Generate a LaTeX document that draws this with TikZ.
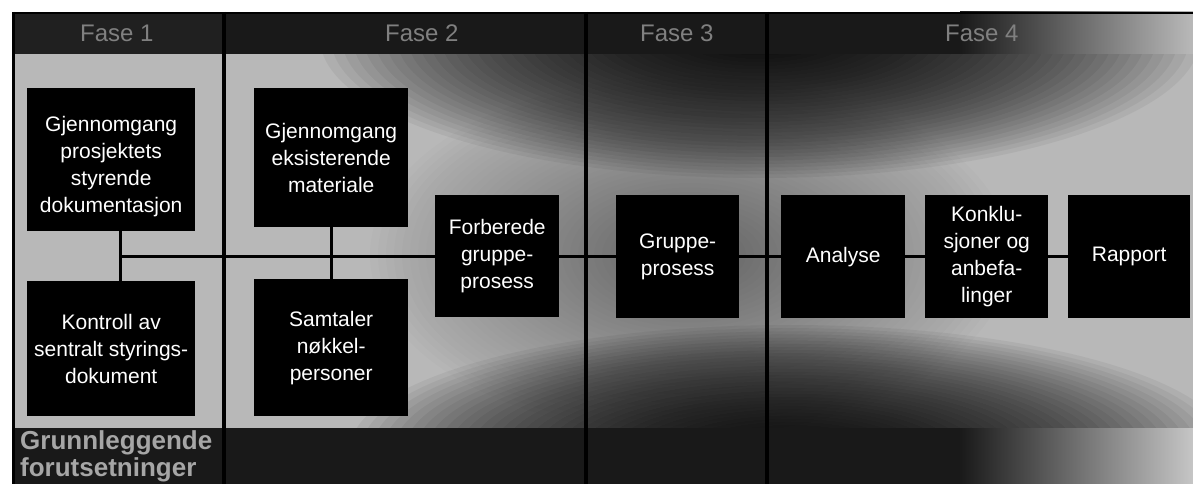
\documentclass[tikz,border=0pt]{standalone}
\usepackage{fontspec}
\setmainfont{Liberation Sans}
\definecolor{bodygray}{gray}{0.72}
\definecolor{bandgray}{gray}{0.1}
\definecolor{labelgray}{gray}{0.5}
\begin{document}
\begin{tikzpicture}[x=1pt,y=-1pt,
  stepbox/.style={fill=black, text=white, align=center, inner sep=0pt,
    font=\fontsize{21}{27}\selectfont},
  steptext/.style={text=white, align=center, inner sep=0pt,
    font=\fontsize{21}{27}\selectfont},
  link/.style={draw=black, line width=3pt},
  divider/.style={draw=black, line width=3.5pt},
  bandlabel/.style={text=labelgray, font=\fontsize{24}{27}\selectfont, inner sep=0pt, align=left}]

% canvas
\useasboundingbox (0,0) rectangle (1193,484);
\fill[white] (0,0) rectangle (1193,484);

% body area: light base, soft dark zones built from stacked translucent ellipses
\begin{scope}
  \clip (12,54) rectangle (1193,428);
  \fill[bodygray] (12,54) rectangle (1193,428);
  \foreach \k in {1,...,40} {
    \pgfmathsetmacro{\f}{\k/40}
    \fill[black, opacity=0.012] (690,255) ellipse [x radius=320*\f, y radius=180*\f];
    \fill[black, opacity=0.05] (760,38) ellipse [x radius=440*\f, y radius=140*\f];
    \fill[black, opacity=0.05] (790,450) ellipse [x radius=440*\f, y radius=125*\f];
  }
\end{scope}

% header band
\fill[bandgray] (12,12) rectangle (1193,54);
\fill[gray!25!black] (12,12) rectangle (224,54);
\shade[left color=bandgray, right color=gray!55] (960,12) rectangle (1193,54);
% footer band
\fill[bandgray] (12,428) rectangle (1193,484);
\shade[left color=bandgray, right color=gray!45] (960,428) rectangle (1193,484);
\fill[gray!20!black] (12,428) rectangle (224,484);

% phase labels
\node[bandlabel, anchor=west] (f1) at (80,33) {Fase 1};
\node[bandlabel, anchor=west] (f2) at (385,33) {Fase 2};
\node[bandlabel, anchor=west] (f3) at (640,33) {Fase 3};
\node[bandlabel, anchor=west] (f4) at (945,33) {Fase 4};
\begin{scope}
  \clip (14,428) rectangle (222,484);
  \node[bandlabel, anchor=north west, text=gray!70, font=\bfseries\fontsize{26}{27}\selectfont] (grunn) at (20,430)
    {Grunnleggende\\forutsetninger};
\end{scope}

% frame and phase dividers
\draw[divider] (13.5,12) -- (13.5,484);
\draw[black, line width=2pt] (12,13) -- (1193,13);
\draw[divider] (224,12) -- (224,484);
\draw[divider] (586,12) -- (586,484);
\draw[divider] (767,12) -- (767,484);

% process steps
\node[stepbox, anchor=north west, minimum width=168pt, minimum height=143pt] (a) at (27,88) {};
\node[steptext] (atext) at ([yshift=-7pt]a.center)
  {Gjennomgang\\prosjektets\\styrende\\dokumentasjon};
\node[stepbox, anchor=north west, minimum width=168pt, minimum height=135pt] (b) at (27,281)
  {Kontroll av\\sentralt styrings-\\dokument};
\node[stepbox, anchor=north west, minimum width=154pt, minimum height=139pt] (c) at (254,88)
  {Gjennomgang\\eksisterende\\materiale};
\node[stepbox, anchor=north west, minimum width=154pt, minimum height=137pt] (d) at (254,279)
  {Samtaler\\nøkkel-\\personer};
\node[stepbox, anchor=north west, minimum width=124pt, minimum height=122pt] (e) at (435,195)
  {Forberede\\gruppe-\\prosess};
\node[stepbox, anchor=north west, minimum width=123pt, minimum height=123pt] (f) at (616,195)
  {Gruppe-\\prosess};
\node[stepbox, anchor=north west, minimum width=124pt, minimum height=123pt] (g) at (781,195)
  {Analyse};
\node[stepbox, anchor=north west, minimum width=123pt, minimum height=123pt] (h) at (925,195)
  {Konklu-\\sjoner og\\anbefa-\\linger};
\node[stepbox, anchor=north west, minimum width=122pt, minimum height=123pt] (i) at (1068,195)
  {Rapport};

% connectors
\coordinate (j1) at (120,256);
\coordinate (j2) at (331,256);
\draw[link] (a.south -| j1) -- (b.north -| j1);
\draw[link] (c.south -| j2) -- (d.north -| j2);
\draw[link] (j1) -- (e.west |- j1);
\draw[link] (e.east |- j1) -- (f.west |- j1);
\draw[link] (f.east |- j1) -- (g.west |- j1);
\draw[link] (g.east |- j1) -- (h.west |- j1);
\draw[link] (h.east |- j1) -- (i.west |- j1);
\end{tikzpicture}
\end{document}
